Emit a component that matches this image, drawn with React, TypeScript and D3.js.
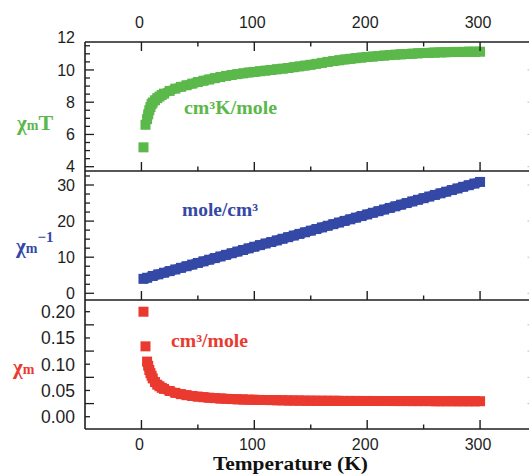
import React from 'react';
import * as d3 from 'd3';

// ---- tick labels ----
const tempTicks = [0, 100, 200, 300];
const tempMinorTicks = [50, 150, 250];
const chiTTicks = [4, 6, 8, 10, 12];
const invChiTicks = [0, 10, 20, 30];
const chiTicks = [0, 0.05, 0.1, 0.15, 0.2];

// ---- chi_m T (cm3 K / mole) ----
const chiTTemps = [1.8, 3.6, 5, 6, 7, 8, 9, 10, 12, 14, 16, 18, 20, 25, 30, 35, 40, 45, 50, 55, 60, 65, 70, 75, 80, 85, 90, 95, 100, 105, 110, 115, 120, 125, 130, 135, 140, 145, 150, 155, 160, 165, 170, 175, 180, 185, 190, 195, 200, 205, 210, 215, 220, 225, 230, 235, 240, 245, 250, 255, 260, 265, 270, 275, 280, 285, 290, 295, 300];
const chiTValues = [5.2, 6.6, 6.95, 7.25, 7.5, 7.7, 7.88, 7.98, 8.12, 8.25, 8.35, 8.45, 8.53, 8.7, 8.84, 8.95, 9.05, 9.15, 9.25, 9.33, 9.41, 9.49, 9.56, 9.63, 9.69, 9.74, 9.79, 9.84, 9.88, 9.92, 9.96, 10.0, 10.04, 10.08, 10.12, 10.17, 10.22, 10.27, 10.32, 10.38, 10.44, 10.5, 10.55, 10.6, 10.65, 10.69, 10.73, 10.77, 10.8, 10.83, 10.86, 10.89, 10.92, 10.95, 10.97, 10.99, 11.01, 11.03, 11.05, 11.06, 11.08, 11.09, 11.1, 11.11, 11.12, 11.12, 11.13, 11.13, 11.13];

// ---- chi_m^-1 (mole / cm3) ----
const invChiTemps = [1.8, 5, 10, 15, 20, 25, 30, 35, 40, 45, 50, 55, 60, 65, 70, 75, 80, 85, 90, 95, 100, 105, 110, 115, 120, 125, 130, 135, 140, 145, 150, 155, 160, 165, 170, 175, 180, 185, 190, 195, 200, 205, 210, 215, 220, 225, 230, 235, 240, 245, 250, 255, 260, 265, 270, 275, 280, 285, 290, 295, 300];
const invChiValues = [4.0, 4.3, 4.8, 5.25, 5.7, 6.15, 6.6, 7.05, 7.5, 7.95, 8.4, 8.85, 9.3, 9.75, 10.2, 10.65, 11.1, 11.55, 12.0, 12.45, 12.9, 13.35, 13.8, 14.2, 14.65, 15.1, 15.55, 16.0, 16.45, 16.9, 17.35, 17.8, 18.25, 18.7, 19.15, 19.6, 20.05, 20.5, 20.95, 21.4, 21.85, 22.3, 22.75, 23.2, 23.65, 24.1, 24.55, 25.0, 25.45, 25.9, 26.35, 26.8, 27.25, 27.7, 28.15, 28.6, 29.05, 29.5, 29.95, 30.4, 30.85];

// ---- chi_m (cm3 / mole) ----
const chiTemps = [1.8, 3.6, 5, 6, 7, 8, 9, 10, 12, 14, 16, 18, 20, 25, 30, 35, 40, 45, 50, 55, 60, 65, 70, 75, 80, 85, 90, 95, 100, 105, 110, 115, 120, 125, 130, 135, 140, 145, 150, 155, 160, 165, 170, 175, 180, 185, 190, 195, 200, 205, 210, 215, 220, 225, 230, 235, 240, 245, 250, 255, 260, 265, 270, 275, 280, 285, 290, 295, 300];
const chiValues = [0.2, 0.134, 0.105, 0.097, 0.089, 0.083, 0.078, 0.073, 0.066, 0.061, 0.058, 0.055, 0.053, 0.049, 0.0455, 0.043, 0.041, 0.0395, 0.0383, 0.0372, 0.0362, 0.0354, 0.0347, 0.0341, 0.0336, 0.0332, 0.0328, 0.0325, 0.0322, 0.032, 0.0318, 0.0316, 0.0314, 0.0312, 0.031, 0.0308, 0.0307, 0.0306, 0.0305, 0.0304, 0.0303, 0.0303, 0.0302, 0.0302, 0.0301, 0.0301, 0.0301, 0.03, 0.03, 0.03, 0.0299, 0.0299, 0.0299, 0.0298, 0.0298, 0.0298, 0.0297, 0.0297, 0.0297, 0.0297, 0.0296, 0.0296, 0.0296, 0.0296, 0.0295, 0.0295, 0.0295, 0.0295, 0.0295];

const GREEN = '#5bb84a';
const BLUE = '#3448a6';
const RED = '#ea3a2f';
const AXIS = '#1e1e1e';
const SANS = '"Liberation Sans", Arial, sans-serif';
const SERIF = '"Liberation Serif", "Times New Roman", serif';

export default function App() {
  const W = 529;
  const H = 475;
  const left = 85;
  const right = 536.5;
  const x = d3.scaleLinear().domain([-50, 350]).range([left, right]);
  const yChiT = d3.scaleLinear().domain([3.733, 11.733]).range([171, 42]);
  const yInv = d3.scaleLinear().domain([-1.86, 33.88]).range([300, 171]);
  const yChi = d3.scaleLinear().domain([-0.0234, 0.2223]).range([429, 300]);

  const sq = 10;
  const bandW = 10;

  const series = [
    { temps: chiTTemps, vals: chiTValues, y: yChiT, color: GREEN, start: 2 },
    { temps: invChiTemps, vals: invChiValues, y: yInv, color: BLUE, start: 0 },
    { temps: chiTemps, vals: chiValues, y: yChi, color: RED, start: 2 },
  ];

  const panels = [
    {
      y: yChiT,
      ticks: chiTTicks,
      fmt: (d: number) => d3.format('d')(d),
      minor: d3.range(4, 11.6, 0.5),
      isMajor: (v: number) => Math.abs(v / 2 - Math.round(v / 2)) < 1e-6,
      fs: 16,
    },
    {
      y: yInv,
      ticks: invChiTicks,
      fmt: (d: number) => d3.format('d')(d),
      minor: d3.range(0, 33.5, 2.5),
      isMajor: (v: number) => Math.abs(v / 10 - Math.round(v / 10)) < 1e-6,
      fs: 16,
    },
    {
      y: yChi,
      ticks: chiTicks,
      fmt: (d: number) => d3.format('.2f')(d),
      minor: d3.range(0, 0.2126, 0.025),
      isMajor: (v: number) => Math.round(v / 0.025) % 2 === 1,
      fs: 17.5,
    },
  ];

  const hLines = [42, 171, 300, 429];

  const xTickMarks = (yBase: number, dir: number, key: string) => (
    <g key={key}>
      {tempTicks.map((t) => (
        <line key={'M' + t} x1={x(t)} x2={x(t)} y1={yBase} y2={yBase + dir * 9} stroke={AXIS} strokeWidth={1.4} />
      ))}
      {tempMinorTicks.map((t) => (
        <line key={'m' + t} x1={x(t)} x2={x(t)} y1={yBase} y2={yBase + dir * 4.5} stroke={AXIS} strokeWidth={1.4} />
      ))}
    </g>
  );

  return (
    <svg
      width={W}
      height={H}
      viewBox={`0 0 ${W} ${H}`}
      style={{ position: 'absolute', left: 0, top: 0, background: '#fff' }}
    >
      <rect x={0} y={0} width={W} height={H} fill="#fff" />

      {/* data: dense square markers drawn as a band */}
      {series.map((s, si) => {
        const pts = s.temps.map((t, i) => [t, s.vals[i]] as [number, number]).slice(s.start);
        const line = d3
          .line<[number, number]>()
          .x((d) => x(d[0]))
          .y((d) => s.y(d[1]))
          .curve(d3.curveMonotoneX);
        return (
          <g key={'s' + si}>
            <path d={line(pts) || ''} fill="none" stroke={s.color} strokeWidth={bandW} strokeLinecap="butt" strokeLinejoin="round" />
            {s.temps.map((t, i) => (
              <rect key={i} x={x(t) - sq / 2} y={s.y(s.vals[i]) - sq / 2} width={sq} height={sq} fill={s.color} />
            ))}
          </g>
        );
      })}

      {/* frame */}
      {hLines.map((yy) => (
        <line key={'h' + yy} x1={left} x2={right} y1={yy} y2={yy} stroke={AXIS} strokeWidth={1.6} />
      ))}
      <line x1={left} x2={left} y1={42} y2={429} stroke={AXIS} strokeWidth={1.6} />
      <line x1={right} x2={right} y1={42} y2={429} stroke={AXIS} strokeWidth={1.6} />

      {/* x ticks */}
      {xTickMarks(42, 1, 'top')}
      {xTickMarks(171, -1, 's1')}
      {xTickMarks(300, -1, 's2')}
      {xTickMarks(429, -1, 'bot')}

      {/* x labels */}
      {tempTicks.map((t) => (
        <text key={'tt' + t} x={x(t) - 2} y={28} textAnchor="middle" fontFamily={SANS} fontSize={16} fill={AXIS}>
          {t}
        </text>
      ))}
      {tempTicks.map((t) => (
        <text key={'bt' + t} x={x(t) - 2} y={450} textAnchor="middle" fontFamily={SANS} fontSize={16} fill={AXIS}>
          {t}
        </text>
      ))}
      <text x={213} y={470} fontFamily={SERIF} fontWeight="bold" fontSize={18} fill="#111" textLength={155} lengthAdjust="spacingAndGlyphs">
        Temperature (K)
      </text>

      {/* y axes */}
      {panels.map((p, pi) => (
        <g key={'p' + pi}>
          {p.minor.map((v, j) => {
            const len = p.isMajor(v) ? 9 : 5;
            const yy = p.y(v);
            return (
              <g key={'t' + j}>
                <line x1={left} x2={left + len} y1={yy} y2={yy} stroke={AXIS} strokeWidth={1.3} />
                <line x1={right} x2={right - len} y1={yy} y2={yy} stroke="#bbb" strokeWidth={1} />
              </g>
            );
          })}
          {p.ticks.map((v) => (
            <text key={'l' + v} x={75} y={p.y(v)} dy="0.36em" textAnchor="end" fontFamily={SANS} fontSize={p.fs} fill={AXIS}>
              {p.fmt(v)}
            </text>
          ))}
        </g>
      ))}

      {/* series labels */}
      <text x={17} y={130} fontFamily={SERIF} fontWeight="bold" fill={GREEN}>
        <tspan fontSize={21}>χ</tspan>
        <tspan fontSize={14}>m</tspan>
        <tspan fontSize={22}>T</tspan>
      </text>
      <text x={184} y={114} fontFamily={SERIF} fontWeight="bold" fontSize={18} fill={GREEN} textLength={93} lengthAdjust="spacingAndGlyphs">
        cm³K/mole
      </text>

      <text x={16} y={253} fontFamily={SERIF} fontWeight="bold" fill={BLUE}>
        <tspan fontSize={21}>χ</tspan>
        <tspan fontSize={14}>m</tspan>
        <tspan fontSize={15} dy={-11}>−1</tspan>
      </text>
      <text x={182} y={216} fontFamily={SERIF} fontWeight="bold" fontSize={18} fill={BLUE} textLength={76} lengthAdjust="spacingAndGlyphs">
        mole/cm³
      </text>

      <text x={13} y={374} fontFamily={SERIF} fontWeight="bold" fill={RED}>
        <tspan fontSize={21}>χ</tspan>
        <tspan fontSize={14}>m</tspan>
      </text>
      <text x={171} y={347} fontFamily={SERIF} fontWeight="bold" fontSize={18} fill={RED} textLength={77} lengthAdjust="spacingAndGlyphs">
        cm³/mole
      </text>
    </svg>
  );
}
